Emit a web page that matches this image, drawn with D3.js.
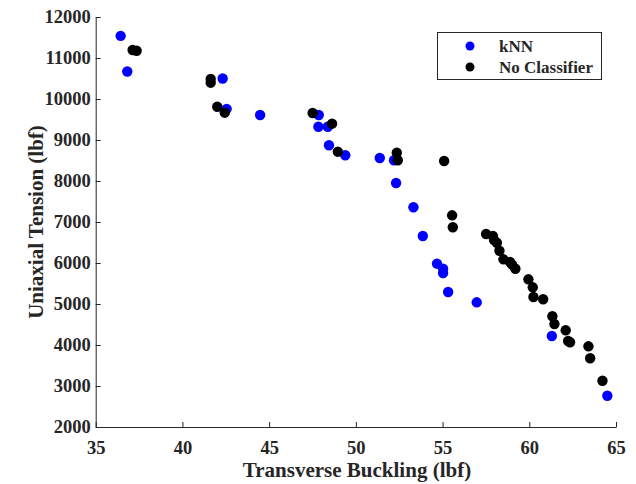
<!DOCTYPE html>
<html>
<head>
<meta charset="utf-8">
<script src="https://cdn.jsdelivr.net/npm/d3@7"></script>
<style>
  html, body { margin: 0; padding: 0; background: #fff; }
  svg { display: block; }
  text { font-family: "Liberation Serif", "Times New Roman", serif; font-weight: bold; fill: #262626; }
</style>
</head>
<body>
<svg id="chart" width="636" height="484"></svg>
<script>
// ---- data ----
const seriesNames = ["kNN", "No Classifier"];
const seriesColors = ["#0000ff", "#000000"];

const knnX = [36.44, 36.82, 42.32, 42.55, 44.48, 47.86, 47.84, 48.38, 48.45, 49.39,
              51.38, 52.20, 52.32, 53.32, 53.86, 54.68, 55.03, 55.03, 55.32, 56.97,
              61.30, 64.50];
const knnY = [11540, 10670, 10500, 9760, 9610, 9610, 9324, 9324, 8871, 8627,
              8561, 8505, 7951, 7359, 6659, 5983, 5861, 5756, 5293, 5041,
              4220, 2763];

const noneX = [37.13, 37.36, 41.63, 41.63, 42.01, 42.44, 47.51, 48.63, 48.96, 52.36,
               52.42, 55.09, 55.55, 55.59, 57.51, 57.90, 57.97, 58.13, 58.28, 58.51,
               58.89, 59.01, 59.20, 59.95, 60.20, 60.24, 60.80, 61.33, 61.45, 62.10,
               62.24, 62.35, 63.41, 63.51, 64.22];
const noneY = [11195, 11178, 10488, 10398, 9812, 9666, 9659, 9398, 8715, 8690,
               8505, 8488, 7163, 6871, 6707, 6659, 6561, 6495, 6300, 6090,
               6024, 5959, 5861, 5602, 5407, 5171, 5115, 4700, 4512, 4359,
               4098, 4066, 3968, 3676, 3129];

const xTicks = [35, 40, 45, 50, 55, 60, 65];
const yTicks = [2000, 3000, 4000, 5000, 6000, 7000, 8000, 9000, 10000, 11000, 12000];
const xLabel = "Transverse Buckling (lbf)";
const yLabel = "Uniaxial Tension (lbf)";

// ---- layout ----
const svg = d3.select("#chart");
const mLeft = 95.7, mRight = 616, mTop = 17, mBottom = 427;

const x = d3.scaleLinear().domain([35, 65]).range([mLeft, mRight]);
const y = d3.scaleLinear().domain([2000, 12000]).range([mBottom, mTop]);

const axisColor = "#262626";
const tickFont = 18.5;

const gx = svg.append("g").attr("transform", `translate(0,${mBottom})`)
  .call(d3.axisBottom(x).tickValues(xTicks).tickFormat(d3.format("d")).tickSizeInner(-5).tickSizeOuter(0).tickPadding(9));
const gy = svg.append("g").attr("transform", `translate(${mLeft},0)`)
  .call(d3.axisLeft(y).tickValues(yTicks).tickFormat(d3.format("d")).tickSizeInner(-5).tickSizeOuter(0).tickPadding(6));

[gx, gy].forEach(g => {
  g.select(".domain").attr("stroke", axisColor).attr("stroke-width", 1);
  g.selectAll(".tick line").attr("stroke", axisColor).attr("stroke-width", 1);
  g.selectAll(".tick text")
    .attr("font-family", '"Liberation Serif", "Times New Roman", serif')
    .attr("font-weight", "bold")
    .attr("font-size", tickFont)
    .attr("fill", "#262626");
});
gx.selectAll(".tick text").attr("y", 13.5);
gy.selectAll(".tick text").attr("x", -5);

// axis titles
svg.append("text")
  .attr("x", 357)
  .attr("y", 477)
  .attr("text-anchor", "middle")
  .attr("font-size", 21)
  .text(xLabel);

svg.append("text")
  .attr("transform", `translate(43,${(mTop + mBottom) / 2}) rotate(-90)`)
  .attr("text-anchor", "middle")
  .attr("font-size", 21)
  .text(yLabel);

// points
const series = [
  { name: seriesNames[0], color: seriesColors[0], xs: knnX, ys: knnY },
  { name: seriesNames[1], color: seriesColors[1], xs: noneX, ys: noneY }
];

series.forEach(s => {
  svg.append("g").selectAll("circle")
    .data(s.xs.map((v, i) => [v, s.ys[i]]))
    .join("circle")
    .attr("cx", d => x(d[0]))
    .attr("cy", d => y(d[1]))
    .attr("r", 5.2)
    .attr("fill", s.color);
});

// legend
const lg = svg.append("g");
lg.append("rect")
  .attr("x", 437.5).attr("y", 32.5).attr("width", 164).attr("height", 47)
  .attr("fill", "#fff").attr("stroke", axisColor).attr("stroke-width", 1);
series.forEach((s, i) => {
  const cy = 46 + i * 21;
  lg.append("circle").attr("cx", 470).attr("cy", cy).attr("r", 4.5).attr("fill", s.color);
  lg.append("text").attr("x", 499).attr("y", cy + 6).attr("font-size", 17).text(s.name);
});
</script>
</body>
</html>
